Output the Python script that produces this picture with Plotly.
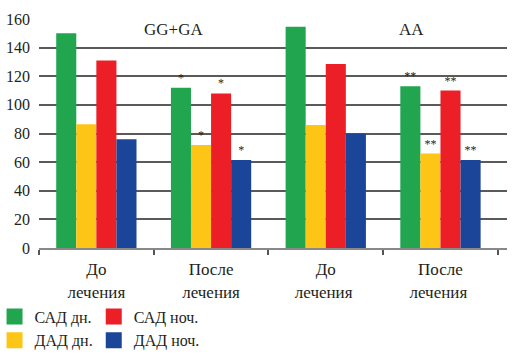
import plotly.graph_objects as go

categories = ["До<br>лечения", "После<br>лечения", "До<br>лечения ", "После<br>лечения "]
sad_day = [150, 112, 154.5, 113]
dad_day = [86.5, 72, 86, 66]
sad_night = [131, 108, 128.5, 110]
dad_night = [76, 61.5, 80, 61.5]
marks = ["", "*", "", "**"]
group_labels = ["GG+GA", "AA"]
y_ticks = [0, 20, 40, 60, 80, 100, 120, 140, 160]

series = [
    ("САД дн.", sad_day, "#21A64F", "legend", 1),
    ("ДАД дн.", dad_day, "#FDC516", "legend", 2),
    ("САД ноч.", sad_night, "#EC1F27", "legend2", 3),
    ("ДАД ноч.", dad_night, "#1B4599", "legend2", 4),
]

serif = "Liberation Serif, Times New Roman, serif"
ink = "#231F20"
fig = go.Figure()
for name, vals, color, leg, rank in series:
    fig.add_trace(go.Bar(
        x=categories, y=vals, name=name, marker=dict(color=color, line=dict(width=0)),
        text=marks, textposition="outside", cliponaxis=False,
        textfont=dict(family=serif, size=12, color=ink),
        showlegend=False,
    ))
for name, vals, color, leg, rank in series:
    fig.add_trace(go.Scatter(
        x=[None], y=[None], mode="markers", name=name,
        marker=dict(symbol="square", size=18, color=color),
        legend=leg, legendrank=rank, showlegend=True,
    ))

fig.add_annotation(x=0.5, y=153, xref="x", yref="y", text=group_labels[0], showarrow=False,
                   font=dict(family=serif, size=17, color=ink), xshift=20)
fig.add_annotation(x=2.5, y=153, xref="x", yref="y", text=group_labels[1], showarrow=False,
                   font=dict(family=serif, size=17, color=ink), xshift=28)

legend_common = dict(orientation="v", xref="paper", yref="paper", y=-0.225,
                     xanchor="left", yanchor="top", font=dict(family=serif, size=16, color=ink),
                     itemwidth=30, traceorder="normal", tracegroupgap=0,
                     bgcolor="rgba(0,0,0,0)", borderwidth=0)
fig.update_layout(
    width=516, height=354,
    margin=dict(l=39, r=9, t=19, b=106, autoexpand=False),
    paper_bgcolor="white", plot_bgcolor="white",
    barmode="group", bargap=0.30, bargroupgap=0,
    font=dict(family=serif, size=15, color=ink),
    legend=dict(x=-0.095, **legend_common),
    legend2=dict(x=0.117, **legend_common),
    showlegend=True,
)
fig.update_xaxes(
    type="category", range=[-0.5, 3.58], tickson="boundaries",
    ticks="outside", ticklen=5, tickcolor="#555", tickwidth=1.5,
    showline=True, linecolor="#888", linewidth=2, automargin=False,
    ticklabelstandoff=5,
    showgrid=False, tickfont=dict(family=serif, size=17, color=ink),
)
fig.update_yaxes(
    range=[0, 160], tickvals=y_ticks, showgrid=True, gridcolor="#5a5a5a", gridwidth=1.5,
    zeroline=False, showline=False, ticks="", ticklabelstandoff=8, automargin=False,
    tickfont=dict(family=serif, size=16, color=ink),
)
fig.write_html("out.html")
